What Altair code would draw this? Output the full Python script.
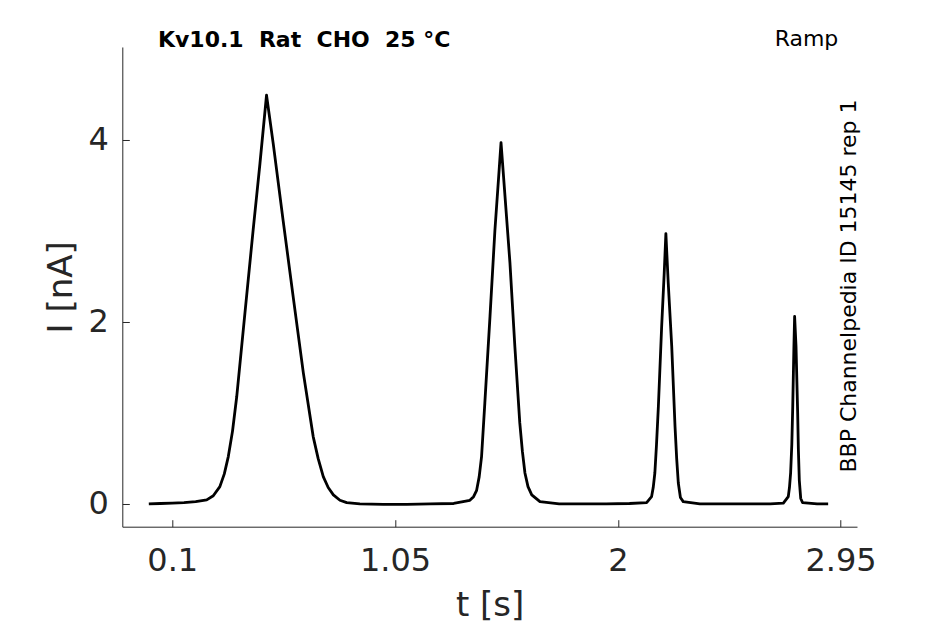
import altair as alt
import pandas as pd

# time [s] and current [nA]
t_s = [0.0, 0.05, 0.10, 0.15, 0.20, 0.247, 0.275, 0.303, 0.322, 0.339, 0.357, 0.375,
       0.41, 0.445, 0.474, 0.502, 0.531, 0.573, 0.616, 0.659, 0.701, 0.722, 0.744,
       0.765, 0.787, 0.815, 0.844, 0.90, 1.0, 1.1, 1.2, 1.3, 1.369, 1.385, 1.398,
       1.409, 1.419, 1.433, 1.455, 1.476, 1.494, 1.502, 1.519, 1.540, 1.561, 1.582,
       1.593, 1.604, 1.617, 1.633, 1.668, 1.75, 1.85, 1.95, 2.05, 2.123, 2.144,
       2.151, 2.158, 2.165, 2.173, 2.187, 2.198, 2.205, 2.215, 2.230, 2.244, 2.251,
       2.258, 2.267, 2.279, 2.35, 2.45, 2.55, 2.65, 2.706, 2.727, 2.732, 2.737,
       2.742, 2.746, 2.751, 2.754, 2.760, 2.767, 2.770, 2.774, 2.780, 2.788, 2.85,
       2.897]
i_nA = [0.0, 0.005, 0.01, 0.015, 0.025, 0.045, 0.09, 0.19, 0.33, 0.52, 0.8, 1.18,
        2.10, 3.01, 3.74, 4.49, 3.95, 3.11, 2.27, 1.44, 0.74, 0.50, 0.30,
        0.18, 0.10, 0.04, 0.014, 0.0, -0.005, -0.005, 0.0, 0.005, 0.04, 0.08, 0.15,
        0.30, 0.52, 1.11, 2.06, 3.01, 3.67, 3.97, 3.38, 2.65, 1.73, 0.89,
        0.58, 0.34, 0.19, 0.10, 0.025, 0.0, 0.0, 0.0, 0.005, 0.015, 0.08,
        0.18, 0.34, 0.65, 1.07, 1.95, 2.54, 2.97, 2.43, 1.73, 0.85, 0.50,
        0.23, 0.07, 0.025, 0.0, 0.0, 0.0, 0.0, 0.008, 0.08, 0.18, 0.34,
        0.65, 1.07, 1.73, 2.06, 1.73, 1.00, 0.60, 0.26, 0.06, 0.015, 0.0,
        0.0]
assert len(t_s) == len(i_nA), (len(t_s), len(i_nA))

x_ticks = [0.1, 1.05, 2, 2.95]
y_ticks = [0, 2, 4]

title_text = "Kv10.1\u00a0 Rat\u00a0 CHO\u00a0 25 °C"
protocol_text = "Ramp"
source_text = "BBP Channelpedia ID 15145 rep 1"

df = pd.DataFrame({"t": t_s, "I": i_nA})

AX = "#262626"
FONT = "DejaVu Sans"
W, H = 734.7, 479.7

line = alt.Chart(df).mark_line(color="black", strokeWidth=2.8, strokeJoin="round").encode(
    x=alt.X("t:Q", scale=alt.Scale(domain=[-0.113, 3.02], nice=False, zero=False),
            axis=alt.Axis(values=x_ticks, labelExpr="toString(datum.value)",
                          title="t [s]", grid=False,
                          domainColor=AX, tickColor=AX, labelColor=AX, titleColor=AX,
                          tickSize={"expr": "-7"}, labelPadding=26,
                          labelFont=FONT, labelFontSize=32,
                          titleFont=FONT, titleFontSize=34,
                          titleFontWeight="normal", titleBaseline="middle",
                          titleY=79)),
    y=alt.Y("I:Q", scale=alt.Scale(domain=[-0.25, 5.02], nice=False, zero=False),
            axis=alt.Axis(values=y_ticks, labelExpr="toString(datum.value)",
                          title="I [nA]", grid=False,
                          domainColor=AX, tickColor=AX, labelColor=AX, titleColor=AX,
                          tickSize={"expr": "-7"}, labelPadding=21,
                          labelFont=FONT, labelFontSize=32,
                          titleFont=FONT, titleFontSize=34,
                          titleFontWeight="normal", titleBaseline="middle",
                          titleAngle=270, titleX=-61, titleY=H / 2)),
)

title = alt.Chart(pd.DataFrame({"label": [title_text]})).mark_text(
    font=FONT, fontSize=22, fontWeight="bold", align="left",
    baseline="middle", color="black").encode(
    text="label:N", x=alt.value(35.7), y=alt.value(-7))

ramp = alt.Chart(pd.DataFrame({"label": [protocol_text]})).mark_text(
    font=FONT, fontSize=22, align="right", baseline="middle",
    color="black").encode(
    text="label:N", x=alt.value(716), y=alt.value(-8))

source = alt.Chart(pd.DataFrame({"label": [source_text]})).mark_text(
    font=FONT, fontSize=22, align="center", baseline="middle",
    angle=270, color="black").encode(
    text="label:N", x=alt.value(727), y=alt.value(239))

chart = alt.layer(line, title, ramp, source).properties(
    width=W, height=H,
    padding={"left": 114.3, "top": 39, "right": 60, "bottom": 97},
    autosize=alt.AutoSizeParams(type="none"),
).configure_view(stroke="transparent")

chart.save("out.html", embed_options={"renderer": "svg", "actions": False})
